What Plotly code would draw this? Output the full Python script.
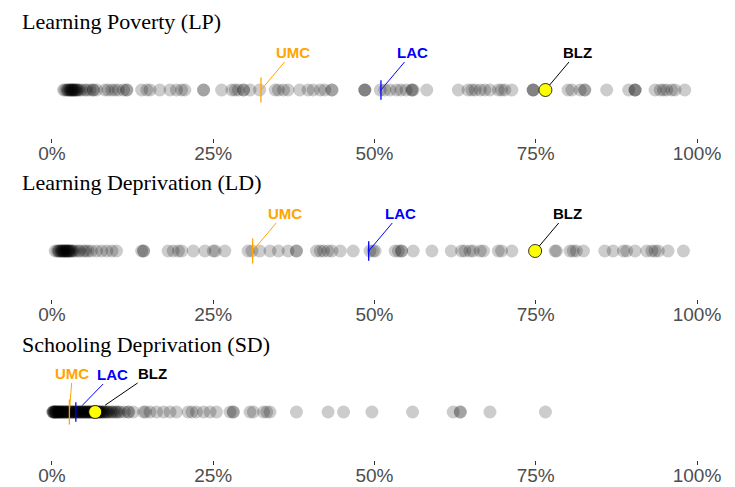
import plotly.graph_objects as go

# ---------------- data (percent) ----------------
panel_titles = ["Learning Poverty (LP)", "Learning Deprivation (LD)", "Schooling Deprivation (SD)"]

lp_values = [1.8, 2.0, 2.3, 2.4, 2.5, 2.7, 2.8, 2.9, 3.0, 3.1, 3.2, 3.3, 3.4, 3.5, 3.6, 3.8, 3.9,
             4.0, 4.3, 4.6, 5.1, 5.4, 5.9, 6.4, 6.4, 6.9,
             8.2, 8.7, 9.3, 9.8, 10.3, 11.1, 11.6, 11.6, 13.9, 14.7, 15.2, 16.7, 18.3, 19.3, 20.1,
             20.6, 23.5, 23.5, 26.3, 27.9, 28.4, 28.9, 29.7, 29.7, 30.7, 32.2, 34.6, 35.1, 35.9,
             36.6, 38.4, 39.7, 40.5, 41.6, 42.3, 43.4, 43.4, 48.5, 48.5, 48.5, 50.9, 51.6, 52.4,
             53.4, 54.1, 54.9, 55.8, 55.8, 56.0, 58.1, 63.0, 64.5, 65.1, 65.6, 66.4, 67.1, 67.9,
             69.2, 69.7, 70.2, 71.3, 74.6, 74.6, 74.6, 80.0, 80.6, 81.9, 82.6, 82.6, 86.0, 89.4,
             90.4, 90.4, 90.4, 93.5, 94.3, 94.8, 95.3, 96.1, 96.6, 98.1]

ld_values = [0.5, 0.8, 1.0, 1.1, 1.2, 1.4, 1.5, 1.6, 1.7, 1.8, 1.9, 2.0, 2.1, 2.2, 2.3, 2.4, 2.5,
             2.6, 2.7, 2.8, 3.0, 3.1, 3.3, 3.6, 4.1, 4.3, 4.9, 5.2,
             5.6, 6.1, 6.9, 7.7, 8.5, 9.3, 10.0, 13.9, 14.2, 14.2, 18.0, 18.8, 19.6, 20.1, 21.9,
             23.7, 25.0, 25.3, 26.8, 30.4, 31.0, 32.2, 33.8, 35.1, 36.6, 37.9, 37.9, 41.0, 41.6,
             42.1, 42.8, 43.4, 44.7, 46.7, 49.3, 49.8, 50.1, 53.2, 53.7, 54.2, 54.2, 56.0, 58.9,
             61.9, 63.5, 64.0, 64.8, 65.3, 66.4, 66.9, 69.2, 69.7, 71.3, 78.0, 78.2, 80.3, 80.8,
             81.3, 82.4, 85.7, 87.0, 88.6, 89.1, 90.4, 92.2, 93.0, 93.5, 94.0, 95.5, 97.9]

sd_values = [0.1, 0.2, 0.2, 0.3, 0.3, 0.4, 0.5, 0.5, 0.6, 0.7, 0.7, 0.8, 0.9, 1.0, 1.0, 1.1,
             1.2, 1.3, 1.3, 1.4, 1.5, 1.6, 1.7, 1.8, 1.8, 1.9, 2.0, 2.1, 2.2, 2.3, 2.4, 2.5,
             2.6, 2.7, 2.8, 2.9, 3.0, 3.1, 3.2, 3.3, 3.4, 3.5, 3.6, 3.7, 3.8, 3.9, 4.0, 4.1,
             4.2, 4.3, 4.4, 4.5, 4.6, 4.7, 4.8, 4.9, 5.0, 5.1, 5.2, 5.3, 5.4, 5.5, 5.6, 5.7,
             5.8, 5.9, 6.0, 6.1, 6.2, 6.3, 6.4, 6.5, 6.6, 6.7, 6.8, 6.9, 7.0, 7.1, 7.2, 7.3,
             7.4, 7.5, 7.6, 7.7, 7.9, 8.0, 8.1, 8.3, 8.5, 8.6, 8.8, 9.1, 9.3, 9.5, 9.9, 10.0,
             10.3, 10.6, 11.2, 11.8, 11.9, 12.6, 14.2, 14.5, 15.2, 16.2, 17.3, 18.3, 19.3, 21.1,
             21.7, 22.4, 23.5, 24.5, 25.5, 27.6, 28.1, 28.1, 30.7, 31.2, 32.8, 33.3, 33.8, 37.9,
             42.8, 45.2, 49.6, 55.9, 62.2, 63.3, 63.3, 67.9, 76.5]

umc_values = [32.4, 31.1, 2.7]
lac_values = [51.0, 49.1, 3.7]
blz_values = [76.5, 74.9, 6.7]

tick_vals = [0, 25, 50, 75, 100]
tick_text = ["0%", "25%", "50%", "75%", "100%"]

# ---------------- figure ----------------
W, H = 735, 487
series = [lp_values, ld_values, sd_values]
fig = go.Figure()

SERIF = "Liberation Serif, Times New Roman, serif"
SANS = "Liberation Sans, Arial, sans-serif"
title_y = [21, 182.5, 344]

annotations = []
layout_axes = {}
for k in range(3):
    sfx = "" if k == 0 else str(k + 1)
    xa, ya = "x" + sfx, "y" + sfx
    off = 161 * k
    bottom_px = 138 + off
    top_px = 38 + off
    vals = series[k]
    fig.add_trace(go.Scatter(
        x=vals, y=[0] * len(vals), mode="markers", xaxis=xa, yaxis=ya,
        marker=dict(size=13, color="rgba(0,0,0,0.2)", line=dict(width=0)),
        hoverinfo="x", showlegend=False))
    fig.add_trace(go.Scatter(
        x=[umc_values[k]], y=[0], mode="markers", xaxis=xa, yaxis=ya,
        marker=dict(symbol="line-ns", size=18, line=dict(width=1.3, color="orange")),
        showlegend=False))
    fig.add_trace(go.Scatter(
        x=[lac_values[k]], y=[0], mode="markers", xaxis=xa, yaxis=ya,
        marker=dict(symbol="line-ns", size=14, line=dict(width=1.3, color="blue")),
        showlegend=False))
    fig.add_trace(go.Scatter(
        x=[blz_values[k]], y=[0], mode="markers", xaxis=xa, yaxis=ya,
        marker=dict(size=13, color="yellow", line=dict(width=0.8, color="black")),
        showlegend=False))

    layout_axes["xaxis" + sfx] = dict(
        range=[-8.06, 105.89], anchor=ya, domain=[0, 1], showgrid=False, zeroline=False,
        showline=False, ticks="outside", ticklen=4, tickwidth=1, tickcolor="#333333",
        ticklabelstandoff=-6,
        tickvals=tick_vals, ticktext=tick_text,
        tickfont=dict(family=SANS, size=19, color="#4d4d4d"), fixedrange=True)
    layout_axes["yaxis" + sfx] = dict(
        range=[-48, 52], domain=[1 - bottom_px / H, 1 - top_px / H], anchor=xa,
        visible=False, fixedrange=True)

    annotations.append(dict(
        text=panel_titles[k], xref="paper", yref="paper", x=20 / W, y=1 - title_y[k] / H,
        xanchor="left", yanchor="middle", showarrow=False,
        font=dict(family=SERIF, size=22, color="black")))

    lab_font = lambda c: dict(family=SANS, size=15, color=c, weight="bold")
    if k < 2:
        umc_off, lac_off, blz_off = (32, -38), (32, -38), (32, -38)
        lac_stand, blz_stand = 0, 6.5
    else:
        umc_off, lac_off, blz_off = (3, -39), (37, -38), (57, -39)
        lac_stand, blz_stand = 9, 12
    for v, name, col, o, st in [(umc_values[k], "UMC", "orange", umc_off, 0),
                                (lac_values[k], "LAC", "blue", lac_off, lac_stand),
                                (blz_values[k], "BLZ", "black", blz_off, blz_stand)]:
        annotations.append(dict(
            text=name, x=v, y=0, xref=xa, yref=ya, ax=o[0], ay=o[1],
            showarrow=True, arrowhead=0, arrowwidth=1, arrowcolor=col, standoff=st,
            font=lab_font(col)))

fig.update_layout(
    width=W, height=H, margin=dict(l=0, r=0, t=0, b=0),
    paper_bgcolor="white", plot_bgcolor="white",
    annotations=annotations, showlegend=False, **layout_axes)

fig.write_html(
    "out.html",
    config={"displayModeBar": False},
    post_script="document.body.style.margin='0';document.body.style.overflow='hidden';")
